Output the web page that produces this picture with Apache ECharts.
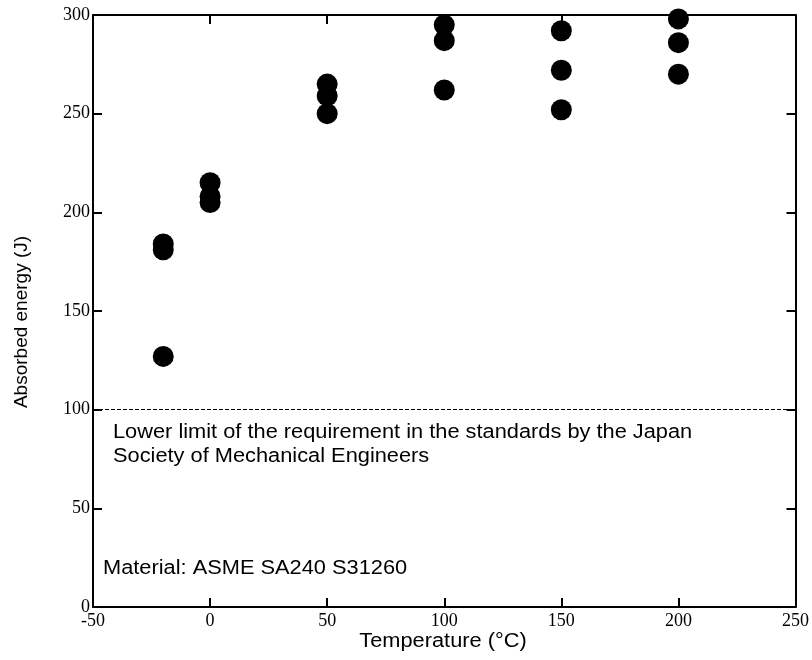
<!DOCTYPE html>
<html>
<head>
<meta charset="utf-8">
<script src="https://cdn.jsdelivr.net/npm/echarts@6/dist/echarts.min.js"></script>
<style>
  html, body { margin: 0; padding: 0; background: #fff; }
  #chart { width: 812px; height: 660px; }
</style>
</head>
<body>
<div id="chart"></div>
<script>
// test temperatures (°C) and absorbed energy (J)
const temps = [-20, -20, -20, 0, 0, 0, 50, 50, 50, 100, 100, 100, 150, 150, 150, 200, 200, 200];
const energy = [127, 181, 184, 205, 208, 215, 250, 259, 265, 262, 287, 295, 252, 272, 292, 270, 286, 298];
const lowerLimit = 100;
const xTitle = 'Temperature (°C)';
const yTitle = 'Absorbed energy (J)';
const noteLimit = 'Lower limit of the requirement in the standards by the Japan\nSociety of Mechanical Engineers';
const noteMaterial = 'Material: ASME SA240 S31260';

const points = temps.map((t, i) => [t, energy[i]]);

const serif = '"Liberation Serif", "DejaVu Serif", serif';
const sans = '"Liberation Sans", Arial, sans-serif';
const stretch = 1.09; // the original text is a bit wider than plain Arial

const chart = echarts.init(document.getElementById('chart'));

const tickStyle = { inside: true, length: 9, lineStyle: { color: '#000', width: 2 } };
const lineStyle = { show: true, onZero: false, lineStyle: { color: '#000', width: 2 } };

chart.setOption({
  animation: false,
  grid: { left: 93, right: 16, top: 15, bottom: 53 },
  xAxis: [
    {
      type: 'value', min: -50, max: 250, interval: 50,
      axisLine: lineStyle, axisTick: tickStyle, splitLine: { show: false },
      axisLabel: { color: '#000', fontFamily: serif, fontSize: 18, margin: 5 }
    },
    {
      type: 'value', position: 'top', min: -50, max: 250, interval: 50,
      axisLine: lineStyle, axisTick: tickStyle, splitLine: { show: false },
      axisLabel: { show: false }
    }
  ],
  yAxis: [
    {
      type: 'value', min: 0, max: 300, interval: 50,
      axisLine: lineStyle, axisTick: tickStyle, splitLine: { show: false },
      axisLabel: { color: '#000', fontFamily: serif, fontSize: 18, margin: 3, padding: [7, 0, 0, 0] }
    },
    {
      type: 'value', position: 'right', min: 0, max: 300, interval: 50,
      axisLine: lineStyle, axisTick: tickStyle, splitLine: { show: false },
      axisLabel: { show: false }
    }
  ],
  series: [
    {
      type: 'scatter',
      data: points,
      symbol: 'circle',
      symbolSize: 21,
      itemStyle: { color: '#000', opacity: 1 },
      markLine: {
        silent: true,
        symbol: ['none', 'none'],
        label: { show: false },
        lineStyle: { color: '#000', type: [4, 2], width: 1 },
        data: [{ yAxis: lowerLimit }]
      }
    }
  ],
  graphic: [
    {
      type: 'text', x: 443, y: 641, scaleX: stretch,
      style: { text: xTitle, font: '20px ' + sans, fill: '#000', align: 'center', verticalAlign: 'middle' }
    },
    {
      type: 'text', x: 22, y: 322, rotation: Math.PI / 2,
      style: { text: yTitle, font: '19px ' + sans, fill: '#000', align: 'center', verticalAlign: 'middle' }
    },
    {
      type: 'text', x: 113, y: 420, scaleX: stretch,
      style: { text: noteLimit, font: '20px ' + sans, fill: '#000', lineHeight: 24 }
    },
    {
      type: 'text', x: 103, y: 556, scaleX: stretch,
      style: { text: noteMaterial, font: '20px ' + sans, fill: '#000', lineHeight: 24 }
    }
  ]
});
</script>
</body>
</html>
